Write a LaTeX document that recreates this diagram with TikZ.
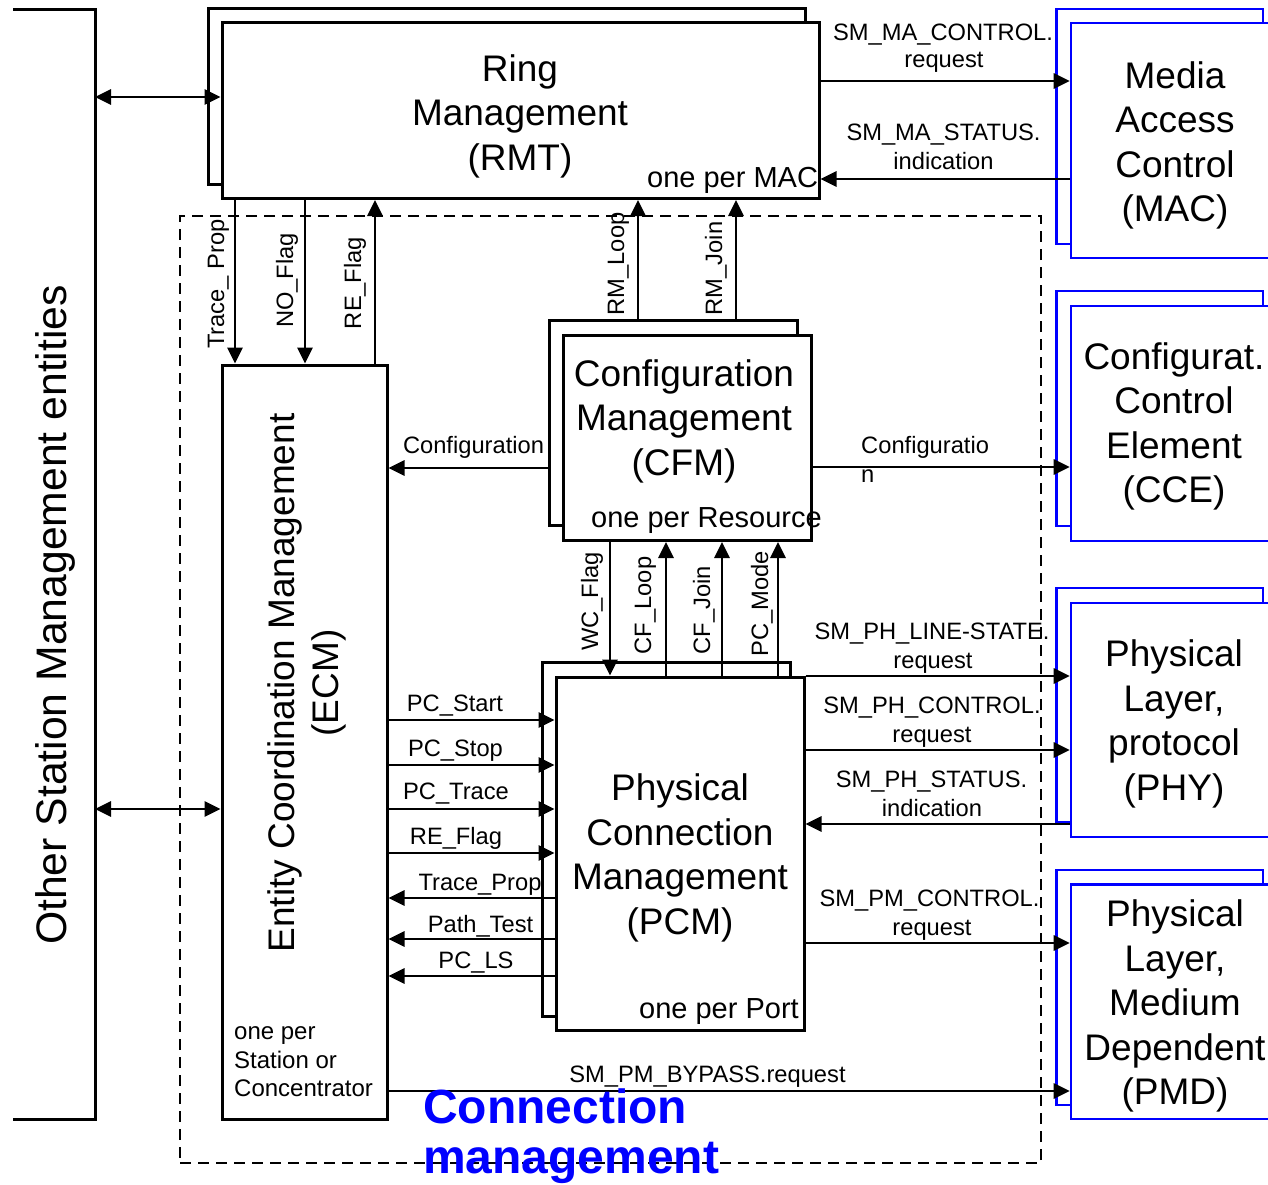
\documentclass[tikz,border=0pt]{standalone}
\usepackage{fontspec}
\setmainfont{Liberation Sans}
\usetikzlibrary{arrows.meta}
\newcommand\fBig{\fontsize{37}{44.5}\selectfont}
\newcommand\fLbl{\fontsize{23.7}{28.5}\selectfont}
\newcommand\fNote{\fontsize{29}{34}\selectfont}
\newcommand\fSmallNote{\fontsize{24}{28.5}\selectfont}
\newcommand\fOse{\fontsize{42.7}{50}\selectfont}
\newcommand\fCM{\fontsize{48}{51}\selectfont\bfseries}
\begin{document}
\begin{tikzpicture}[x=1pt,y=-1pt,
  box/.style={draw=black, line width=3pt, fill=white, inner sep=0pt, rectangle},
  bbox/.style={draw=blue, line width=2.6pt, fill=white, inner sep=0pt, rectangle},
  sz/.style 2 args={minimum width=#1pt, minimum height=#2pt},
  arr/.style={line width=2.8pt, -{Triangle[length=16pt,width=15pt]}},
  darr/.style={line width=2.8pt, {Triangle[length=16pt,width=15pt]}-{Triangle[length=16pt,width=15pt]}},
  lbl/.style={font=\fLbl, inner sep=0pt, anchor=base},
  note/.style={font=\fNote, inner sep=0pt, anchor=base west},
  big/.style={font=\fBig, align=center, inner sep=0pt},
]
\useasboundingbox (0,0) rectangle (1268,1185);
\fill[white] (0,0) rectangle (1268,1185);
\clip (0,0) rectangle (1268,1185);

% connection management region
\node[draw, line width=2.5pt, dash pattern=on 11pt off 7pt, inner sep=0pt, sz={861}{947}] (cmRegion) at (610.5,689.5) {};

% other station management entities
\coordinate (oseTL) at (13,10);
\coordinate (oseTR) at (95,10);
\coordinate (oseBR) at (95,1119);
\coordinate (oseBL) at (13,1119);
\draw[line width=3pt] (oseTL) -- (oseTR) -- (oseBR) -- (oseBL);
\node[font=\fOse, rotate=90, inner sep=0pt] (oseTxt) at (55,615) {Other Station Management entities};

% RMT
\node[box, sz={597}{176}] (rmtB) at (506.5,97) {};
\node[box, sz={597}{175.5}] (rmt) at (520.5,110.75) {};
\node[big] (rmtTxt) at (520,116) {Ring\\Management\\(RMT)};
\node[note] (rmtNote) at (647,187) {one per MAC};

% ECM
\node[box, sz={165}{754}] (ecm) at (304.5,742) {};
\node[big, rotate=90] (ecmTxt) at (307,683) {Entity Coordination Management\\(ECM)};
\node[font=\fSmallNote, align=left, inner sep=0pt, anchor=west] (ecmNote) at (234,1062) {one per\\Station or\\Concentrator};

% CFM
\node[box, sz={248.5}{205}] (cfmB) at (673.25,423) {};
\node[box, sz={248}{205}] (cfm) at (687,438) {};
\node[big] (cfmTxt) at (684,421) {Configuration\\Management\\(CFM)};
\node[note] (cfmNote) at (591,527) {one per Resource};

% PCM
\node[box, sz={248}{354}] (pcmB) at (666,839) {};
\node[box, sz={248}{353}] (pcm) at (680,853.5) {};
\node[big] (pcmTxt) at (680,858) {Physical\\Connection\\Management\\(PCM)};
\node[note] (pcmNote) at (639,1018) {one per Port};

% right-hand blue boxes
\node[bbox, sz={206.5}{235}] (macB) at (1159.75,126.5) {};
\node[bbox, sz={229}{235}] (mac) at (1185.5,140.5) {};
\node[big] (macTxt) at (1175,145.5) {Media\\Access\\Control\\(MAC)};

\node[bbox, sz={206.5}{235}] (cceB) at (1159.75,408.5) {};
\node[bbox, sz={229}{235}] (cce) at (1185.5,423.5) {};
\node[big] (cceTxt) at (1174,426.5) {Configurat.\\Control\\Element\\(CCE)};

\node[bbox, sz={206.5}{234}] (phyB) at (1159.75,705) {};
\node[bbox, sz={229}{234}] (phy) at (1185.5,720) {};
\node[big] (phyTxt) at (1174,724) {Physical\\Layer,\\protocol\\(PHY)};

\node[bbox, sz={206.5}{235}] (pmdB) at (1159.75,987.5) {};
\node[bbox, sz={229}{234.5}] (pmd) at (1185.5,1001.75) {};
\node[big] (pmdTxt) at (1175,1006) {Physical\\Layer,\\Medium\\Dependent\\(PMD)};

% connectors
\draw[darr] (oseTR |- 0,97) -- (rmt.west |- 0,97);
\draw[darr] (oseTR |- 0,809) -- (ecm.west |- 0,809);

\draw[arr] (rmt.east |- 0,81) -- (mac.west |- 0,81);
\draw[arr] (mac.west |- 0,179) -- (rmt.east |- 0,179);

\draw[arr] (rmt.south -| 235,0) -- (ecm.north -| 235,0);
\draw[arr] (rmt.south -| 305,0) -- (ecm.north -| 305,0);
\draw[arr] (ecm.north -| 375,0) -- (rmt.south -| 375,0);

\draw[arr] (cfmB.north -| 638,0) -- (rmt.south -| 638,0);
\draw[arr] (cfmB.north -| 736,0) -- (rmt.south -| 736,0);

\draw[arr] (cfmB.west |- 0,468) -- (ecm.east |- 0,468);
\draw[arr] (cfm.east |- 0,467) -- (cce.west |- 0,467);

\draw[arr] (cfm.south -| 610,0) -- (pcm.north -| 610,0);
\draw[arr] (pcm.north -| 666,0) -- (cfm.south -| 666,0);
\draw[arr] (pcm.north -| 722,0) -- (cfm.south -| 722,0);
\draw[arr] (pcm.north -| 778,0) -- (cfm.south -| 778,0);

\draw[arr] (ecm.east |- 0,720) -- (pcm.west |- 0,720);
\draw[arr] (ecm.east |- 0,765) -- (pcm.west |- 0,765);
\draw[arr] (ecm.east |- 0,809) -- (pcm.west |- 0,809);
\draw[arr] (ecm.east |- 0,853) -- (pcm.west |- 0,853);
\draw[arr] (pcm.west |- 0,898) -- (ecm.east |- 0,898);
\draw[arr] (pcm.west |- 0,939) -- (ecm.east |- 0,939);
\draw[arr] (pcm.west |- 0,976) -- (ecm.east |- 0,976);

\draw[arr] (pcm.east |- 0,676) -- (phy.west |- 0,676);
\draw[arr] (pcm.east |- 0,750) -- (phy.west |- 0,750);
\draw[arr] (phy.west |- 0,824) -- (pcm.east |- 0,824);
\draw[arr] (pcm.east |- 0,943) -- (pmd.west |- 0,943);
\draw[arr] (ecm.east |- 0,1091) -- (pmd.west |- 0,1091);

% rotated labels
\node[lbl, rotate=90] (lTraceA) at (224,284) {Trace\_ Prop};
\node[lbl, rotate=90] (lNoFlag) at (293,280.5) {NO\_Flag};
\node[lbl, rotate=90] (lReFlagA) at (361,283) {RE\_Flag};
\node[lbl, rotate=90] (lRmLoop) at (624,264) {RM\_Loop};
\node[lbl, rotate=90] (lRmJoin) at (722,268.5) {RM\_Join};
\node[lbl, rotate=90] (lWcFlag) at (598,601.5) {WC\_Flag};
\node[lbl, rotate=90] (lCfLoop) at (651,605.5) {CF\_Loop};
\node[lbl, rotate=90] (lCfJoin) at (710,610) {CF\_Join};
\node[lbl, rotate=90] (lPcMode) at (768,604) {PC\_Mode};

% horizontal labels
\node[lbl] (lConfL) at (473.5,453) {Configuration};
\node[lbl, anchor=base west] (lConfR1) at (861,453) {Configuratio};
\node[lbl, anchor=base west] (lConfR2) at (861,482) {n};
\node[lbl] (lMaC1) at (943,41) {SM\_MA\_CONTROL.};
\node[lbl] (lMaC2) at (944,68) {request};
\node[lbl] (lMaS1) at (943.5,141) {SM\_MA\_STATUS.};
\node[lbl] (lMaS2) at (943.5,170) {indication};
\node[lbl] (lPhL1) at (932,639) {SM\_PH\_LINE-STATE.};
\node[lbl] (lPhL2) at (933,668) {request};
\node[lbl] (lPhC1) at (932,713) {SM\_PH\_CONTROL.};
\node[lbl] (lPhC2) at (932,742) {request};
\node[lbl] (lPhS1) at (931.5,787) {SM\_PH\_STATUS.};
\node[lbl] (lPhS2) at (932,816) {indication};
\node[lbl] (lPmC1) at (929.5,906) {SM\_PM\_CONTROL.};
\node[lbl] (lPmC2) at (932,935) {request};
\node[lbl] (lPmB) at (707.5,1082) {SM\_PM\_BYPASS.request};

\node[lbl] (lPcStart) at (455,711) {PC\_Start};
\node[lbl] (lPcStop) at (455.5,756) {PC\_Stop};
\node[lbl] (lPcTrace) at (456,799) {PC\_Trace};
\node[lbl] (lReFlagB) at (456,844) {RE\_Flag};
\node[lbl] (lTraceB) at (480,890) {Trace\_Prop};
\node[lbl] (lPathTest) at (480.5,932) {Path\_Test};
\node[lbl] (lPcLs) at (476,968) {PC\_LS};

% region title
\node[font=\fCM, text=blue, inner sep=0pt, anchor=base west] (cmTitle1) at (423,1123) {Connection};
\node[font=\fCM, text=blue, inner sep=0pt, anchor=base west] (cmTitle2) at (423,1173) {management};
\end{tikzpicture}
\end{document}
